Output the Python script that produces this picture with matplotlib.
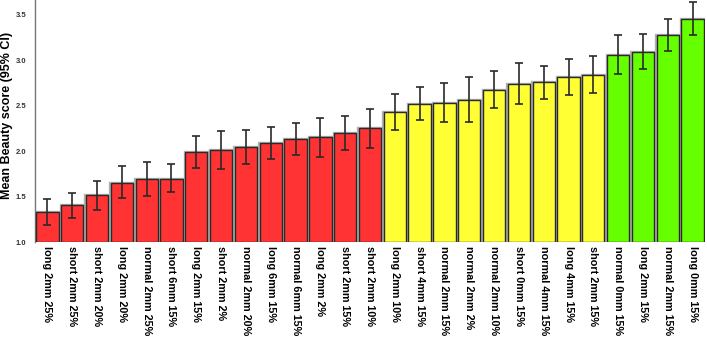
import matplotlib
matplotlib.use("Agg")
import matplotlib.pyplot as plt
import numpy as np

labels = ["long 2mm 25%", "short 2mm 25%", "short 2mm 20%", "long 2mm 20%",
          "normal 2mm 25%", "short 6mm 15%", "long 2mm 15%", "short 2mm 2%",
          "normal 2mm 20%", "long 6mm 15%", "normal 6mm 15%", "long 2mm 2%",
          "short 2mm 15%", "short 2mm 10%",
          "long 2mm 10%", "short 4mm 15%", "normal 2mm 15%", "normal 2mm 2%",
          "normal 2mm 10%", "short 0mm 15%", "normal 4mm 15%", "long 4mm 15%",
          "short 2mm 15%",
          "normal 0mm 15%", "long 2mm 15%", "normal 2mm 15%", "long 0mm 15%"]
means = [1.333, 1.41, 1.52, 1.655, 1.695, 1.70, 1.996, 2.014, 2.044, 2.088,
         2.135, 2.154, 2.20, 2.25,
         2.435, 2.523, 2.534, 2.567, 2.677, 2.743, 2.758, 2.816, 2.842,
         3.058, 3.094, 3.275, 3.45]
ci_high = [1.48, 1.54, 1.67, 1.835, 1.88, 1.86, 2.17, 2.22, 2.23, 2.267,
           2.314, 2.37, 2.39, 2.46,
           2.633, 2.71, 2.75, 2.81, 2.886, 2.967, 2.94, 3.01, 3.05,
           3.275, 3.29, 3.446, 3.633]
ci_low = [1.19, 1.27, 1.36, 1.49, 1.51, 1.556, 1.816, 1.81, 1.857, 1.912,
          1.956, 1.94, 2.01, 2.036,
          2.234, 2.344, 2.325, 2.32, 2.47, 2.516, 2.578, 2.622, 2.64,
          2.85, 2.90, 3.10, 3.275]
groups = ["low"] * 14 + ["mid"] * 9 + ["high"] * 4
group_colors = {"low": "#FF3333", "mid": "#FFFF33", "high": "#66FF00"}

fig = plt.figure(figsize=(7.07, 3.37), dpi=100)
ax = fig.add_axes([35 / 707, (337 - 242.3) / 337, 670 / 707, 242.3 / 337])

x = np.arange(len(labels))
means_a = np.array(means)
yerr = np.vstack([means_a - np.array(ci_low), np.array(ci_high) - means_a])
colors = [group_colors[g] for g in groups]

ax.bar(x, means_a - 1.0, bottom=1.0, width=0.93, color="none",
       edgecolor="#b0b0b0", linewidth=2.4, zorder=2)
ax.bar(x, means_a - 1.0, bottom=1.0, width=0.9, color=colors,
       edgecolor="#2a2a2a", linewidth=1.0, zorder=3)
ax.errorbar(x, means, yerr=yerr, fmt="none", ecolor="#2a2a2a",
            elinewidth=1.2, capsize=2.8, capthick=1.2, zorder=4)

ax.set_xlim(-0.5, len(labels) - 0.5)
ax.set_ylim(1.0, 3.66)
ax.set_yticks([1.0, 1.5, 2.0, 2.5, 3.0, 3.5])
ax.set_yticklabels(["1.0", "1.5", "2.0", "2.5", "3.0", "3.5"],
                   fontsize=5.5, fontweight="bold", color="#333333",
                   family="Liberation Sans")
ax.tick_params(axis="y", length=0, pad=6)
ax.tick_params(axis="x", length=0, pad=3)
ax.set_xticks(x)
ax.set_xticklabels(labels, rotation=270, fontsize=7.8, fontweight="bold",
                   family="Liberation Sans", va="top", ha="center")
ax.set_ylabel("Mean Beauty score (95% CI)", fontsize=9, fontweight="bold",
              family="Liberation Sans")
ax.yaxis.set_label_coords(-22 / 670, 0.525)

for s in ["top", "right", "bottom"]:
    ax.spines[s].set_visible(False)
ax.spines["left"].set_color("#777777")
ax.spines["left"].set_linewidth(1.0)

fig.savefig("out.png", dpi=100)
